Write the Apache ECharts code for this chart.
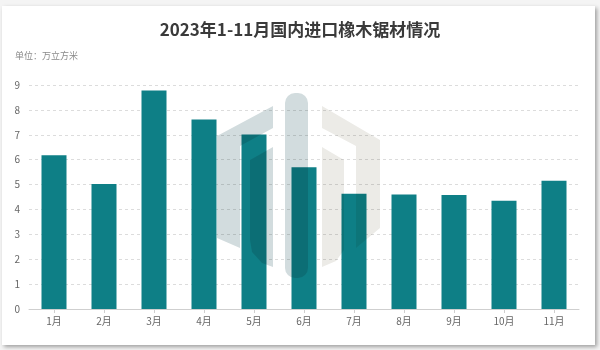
<!DOCTYPE html>
<html><head><meta charset="utf-8">
<script src="https://cdn.jsdelivr.net/npm/echarts@6/dist/echarts.min.js"></script>
<style>
html,body{margin:0;padding:0;background:#f4f4f4;width:600px;height:350px;overflow:hidden;}
#card{position:absolute;left:2px;top:6px;width:593px;height:339px;background:#fff;box-shadow:2px 2px 4px rgba(0,0,0,0.35);}
#chart{position:absolute;left:0;top:0;width:600px;height:350px;}
</style></head>
<body><div id="card"></div><div id="chart"></div>
<script>
const titleText = '2023年1-11月国内进口橡木锯材情况';
const unitText = '单位：万立方米';
const categories = ['1月','2月','3月','4月','5月','6月','7月','8月','9月','10月','11月'];
const values = [6.18, 5.02, 8.78, 7.61, 7.01, 5.70, 4.63, 4.60, 4.58, 4.35, 5.15];

const chart = echarts.init(document.getElementById('chart'), null, {renderer:'canvas'});
const ff = '"Noto Sans CJK SC","Noto Sans",sans-serif';
chart.setOption({
  animation:false,
  backgroundColor:'transparent',
  title:[
    {text:titleText,left:'center',top:16,textStyle:{fontSize:17,fontWeight:'bold',color:'#3a3a3a',fontFamily:ff}},
    {text:unitText,left:10,top:46,textStyle:{fontSize:9,fontWeight:'normal',color:'#8a8a8a',fontFamily:ff}}
  ],
  grid:{left:29,right:21,top:85,bottom:41,containLabel:false},
  xAxis:{type:'category',data:categories,
    axisLine:{lineStyle:{color:'#cfcfcf'}},
    axisTick:{show:true,alignWithLabel:true,length:4,lineStyle:{color:'#cfcfcf'}},
    axisLabel:{color:'#666',fontSize:10,fontFamily:ff,margin:7}},
  yAxis:{type:'value',min:0,max:9,interval:1,
    axisLine:{show:false},axisTick:{show:false},
    axisLabel:{color:'#666',fontSize:10,fontFamily:ff,margin:9},
    splitLine:{lineStyle:{color:'#dcdcdc',type:[3,3]}}},
  series:[{type:'bar',data:values,barWidth:25,itemStyle:{color:'#0e7f86'},z:2}],
  graphic:[
    {type:'polygon',z:100,shape:{points:[[273,106],[273,128],[240,146],[240,248],[217,238],[217,136]]},style:{fill:'#d2dcde',blend:'multiply'}},
    {type:'polygon',z:100,shape:{points:[[273,147],[273,267],[262,263],[252,252],[250,240],[250,160]]},style:{fill:'#d2dcde',blend:'multiply'}},
    {type:'rect',z:100,shape:{x:285,y:93,width:23,height:185,r:10},style:{fill:'#d2dcde',blend:'multiply'}},
    {type:'polygon',z:100,shape:{points:[[322,106],[322,128],[356,146],[356,248],[380,228],[380,140]]},style:{fill:'#ecebe7',blend:'multiply'}},
    {type:'polygon',z:100,shape:{points:[[322,147],[322,267],[336,261],[344,250],[344,160]]},style:{fill:'#ecebe7',blend:'multiply'}}
  ]
});
</script></body></html>
